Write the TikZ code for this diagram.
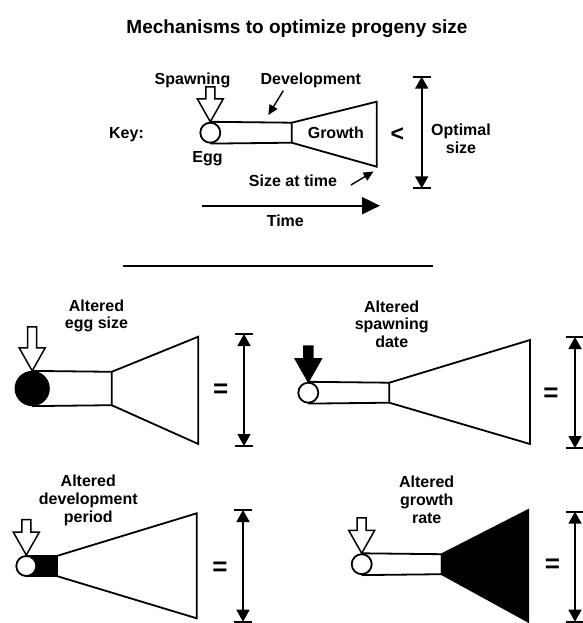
\documentclass[tikz,border=0pt]{standalone}
\usepackage{fontspec}
\setmainfont{Liberation Sans}
\usetikzlibrary{arrows.meta,calc}

\tikzset{
  lbl/.style={font=\fontsize{16}{17.8}\selectfont\bfseries, inner sep=0pt},
  egg/.style={circle, draw, fill=white, inner sep=0pt, minimum size=20pt},
  bigegg/.style={circle, draw, fill=black, inner sep=0pt, minimum size=33.4pt},
  sizebar/.style={{Triangle[length=12pt,width=13pt]}-{Triangle[length=12pt,width=13pt]}},
  pointer/.style={line width=1.4pt, -{Triangle[length=10pt,width=9pt]}},
  sym/.style={font=\fontsize{26}{26}\selectfont\bfseries, inner sep=0pt, anchor=base},
}

% open (or filled) spawning arrow ending with its tip at #2
\newcommand\spawnmark[3]{%
  \draw[line width=1.5pt, fill=#1] (#2) -- ++(-13,-23) -- ++(8.5,0) -- ++(0,-#3)
    -- ++(9,0) -- ++(0,#3) -- ++(8.5,0) -- cycle;}

% size gauge: double arrow with end bars between two named points
\newcommand\gauge[2]{%
  \draw[sizebar] (#1) -- (#2);
  \draw ($(#1)+(-9,0)$) -- ($(#1)+(9,0)$);
  \draw ($(#2)+(-9,0)$) -- ($(#2)+(9,0)$);}

\begin{document}
\begin{tikzpicture}[x=1pt,y=-1pt,line width=1.8pt]
\useasboundingbox (0,0) rectangle (582,623);

% title
\node[lbl, font=\fontsize{19}{22}\selectfont\bfseries, anchor=base] (title) at (297,34)
  {Mechanisms to optimize progeny size};

% ---------------- key ----------------
\node[lbl, anchor=base] (key) at (126.5,138) {Key:};
\node[egg] (k-egg) at (210.3,132.7) {};
\coordinate (k-dt) at (291.7,122.7);
\coordinate (k-db) at (291.7,142.7);
\coordinate (k-gt) at (376.7,101.7);
\coordinate (k-gb) at (376.7,166.7);
\draw (k-egg.north) -- (k-dt) -- (k-db) -- (k-egg.south);
\draw (k-dt) -- (k-gt) -- (k-gb) -- (k-db);
\node[lbl, anchor=base] (k-grow) at (335.8,138.3) {Growth};
\spawnmark{white}{k-egg.north}{12}

\node[lbl, anchor=base] (k-spawn) at (192.5,85) {Spawning};
\node[lbl, anchor=base] (k-dev) at (310.8,85) {Development};
\coordinate (k-devtip) at (268.3,115);
\draw[pointer] ($(k-dev.base)+(-27.5,5.7)$) -- (k-devtip);

\node[lbl, anchor=base] (k-egglbl) at (207.5,162.7) {Egg};
\node[lbl, anchor=base] (k-sat) at (293,186) {Size at time};
\coordinate (k-sattip) at (373.5,171.5);
\draw[pointer] ($(k-sat.base east)+(13,-1)$) -- (k-sattip);

\node[sym, font=\fontsize{23}{23}\selectfont\bfseries] (k-lt) at (397.3,141.5) {<};
\coordinate (k-top) at (421.7,76.7);
\coordinate (k-bot) at (421.7,188.3);
\gauge{k-top}{k-bot}
\node[lbl, align=center, anchor=north] (k-opt) at (461,123) {Optimal\\size};

\coordinate (t0) at (201.7,205.7);
\coordinate (t1) at (380,205.7);
\draw[line width=2pt, -{Triangle[length=18pt,width=17pt]}] (t0) -- (t1);
\node[lbl, anchor=base] (time) at (285.3,226.7) {Time};

% separator
\draw[line width=1.7pt] (123.3,266) -- (433.3,266);

% ---------------- altered egg size ----------------
\node[lbl, align=center, anchor=north] (p1-lbl) at (96.5,298.7) {Altered\\egg size};
\node[bigegg] (p1-egg) at (32.2,388.5) {};
\coordinate (p1-dt) at (111.7,371.8);
\coordinate (p1-db) at (111.7,405.2);
\coordinate (p1-gt) at (198.3,336.7);
\coordinate (p1-gb) at (198.3,444);
\draw (p1-egg.north) -- (p1-dt) -- (p1-db) -- (p1-egg.south);
\draw (p1-dt) -- (p1-gt) -- (p1-gb) -- (p1-db);
\spawnmark{white}{p1-egg.north}{21}
\node[sym] (p1-eq) at (220.8,397) {=};
\coordinate (p1-top) at (244,334);
\coordinate (p1-bot) at (244,446);
\gauge{p1-top}{p1-bot}

% ---------------- altered spawning date ----------------
\node[lbl, align=center, anchor=north] (p2-lbl) at (391.7,299.7) {Altered\\spawning\\date};
\node[egg] (p2-egg) at (308.3,392.7) {};
\coordinate (p2-dt) at (389.3,382.7);
\coordinate (p2-db) at (389.3,402.7);
\coordinate (p2-gt) at (530,340);
\coordinate (p2-gb) at (530,444);
\draw (p2-egg.north) -- (p2-dt) -- (p2-db) -- (p2-egg.south);
\draw (p2-dt) -- (p2-gt) -- (p2-gb) -- (p2-db);
\spawnmark{black}{p2-egg.north}{12.6}
\node[sym] (p2-eq) at (551,401) {=};
\coordinate (p2-top) at (575,337);
\coordinate (p2-bot) at (575,448);
\gauge{p2-top}{p2-bot}

% ---------------- altered development period ----------------
\node[lbl, align=center, anchor=north] (p3-lbl) at (88.3,474) {Altered\\development\\period};
\coordinate (p3-dt) at (56.7,556);
\coordinate (p3-db) at (56.7,576);
\coordinate (p3-gt) at (196.7,513.3);
\coordinate (p3-gb) at (196.7,618.3);
\filldraw (26.3,556) rectangle (p3-db);
\node[egg] (p3-egg) at (26.3,566) {};
\draw (p3-dt) -- (p3-gt) -- (p3-gb) -- (p3-db);
\spawnmark{white}{p3-egg.north}{12.4}
\node[sym] (p3-eq) at (220,575.8) {=};
\coordinate (p3-top) at (243,510);
\coordinate (p3-bot) at (243,621.7);
\gauge{p3-top}{p3-bot}

% ---------------- altered growth rate ----------------
\node[lbl, align=center, anchor=north] (p4-lbl) at (426.7,475.3) {Altered\\growth\\rate};
\node[egg] (p4-egg) at (361.7,564.2) {};
\coordinate (p4-dt) at (441.7,554.2);
\coordinate (p4-db) at (441.7,574.2);
\coordinate (p4-gt) at (528.3,510);
\coordinate (p4-gb) at (528.3,621.7);
\draw (p4-egg.north) -- (p4-dt) -- (p4-db) -- (p4-egg.south);
\filldraw (p4-dt) -- (p4-gt) -- (p4-gb) -- (p4-db) -- cycle;
\spawnmark{white}{p4-egg.north}{12.4}
\node[sym] (p4-eq) at (552.5,572.4) {=};
\coordinate (p4-top) at (575,511.7);
\coordinate (p4-bot) at (575,621.7);
\gauge{p4-top}{p4-bot}

\end{tikzpicture}
\end{document}
